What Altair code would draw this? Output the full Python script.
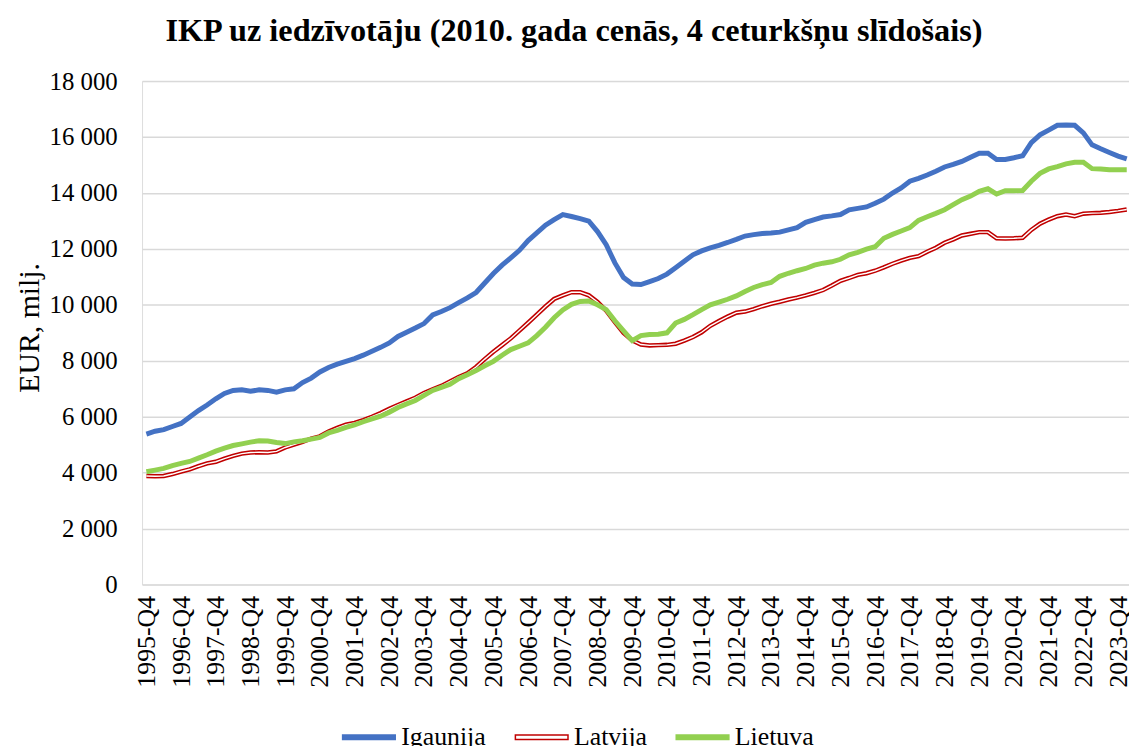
import altair as alt
import pandas as pd

# Categories: quarters 1995-Q4 .. 2024-Q1
all_q = [f"{y}-Q{q}" for y in range(1995, 2025) for q in range(1, 5)]
quarters = all_q[3:3 + 114]
tick_labels = [q for q in quarters if q.endswith("Q4")]

series_names = ["Igaunija", "Latvija", "Lietuva"]

igaunija = [
    5380, 5480, 5540, 5650, 5760, 5990, 6220, 6420, 6640, 6830,
    6940, 6960, 6910, 6960, 6940, 6880, 6960, 7000, 7220, 7380,
    7600, 7760, 7880, 7980, 8080, 8200, 8340, 8480, 8640, 8870,
    9020, 9170, 9330, 9640, 9760, 9900, 10080, 10250, 10440, 10780,
    11120, 11420, 11680, 11950, 12300, 12570, 12850, 13050, 13230, 13160,
    13080, 12990, 12620, 12150, 11500, 10980, 10745, 10725, 10830, 10940,
    11100, 11330, 11560, 11790, 11930, 12040, 12130, 12230, 12340, 12460,
    12510, 12550, 12570, 12600, 12680, 12760, 12950, 13050, 13140, 13180,
    13230, 13400, 13450, 13500, 13630, 13780, 14000, 14180, 14420, 14520,
    14640, 14780, 14930, 15020, 15130, 15280, 15420, 15420, 15200, 15200,
    15260, 15330, 15800, 16080, 16250, 16420, 16430, 16420, 16150, 15720,
    15580, 15450, 15320, 15220,
]

latvija = [
    3880, 3870, 3880, 3950, 4040, 4120, 4230, 4330, 4390, 4500,
    4600, 4680, 4720, 4730, 4720, 4760, 4900, 5000, 5100, 5220,
    5300, 5470, 5600, 5720, 5780, 5880, 6000, 6130, 6280, 6420,
    6550, 6680, 6850, 6980, 7100, 7260, 7420, 7550, 7780, 8060,
    8320, 8560, 8800, 9080, 9360, 9650, 9940, 10210, 10340, 10450,
    10450, 10340, 10100, 9790, 9380, 9000, 8730, 8580, 8550, 8560,
    8570, 8610, 8720, 8850, 9020, 9250, 9420, 9580, 9720, 9760,
    9850, 9950, 10040, 10110, 10190, 10260, 10340, 10430, 10530, 10690,
    10860, 10960, 11070, 11130, 11220, 11340, 11470, 11580, 11680, 11740,
    11900, 12040, 12220, 12340, 12480, 12540, 12600, 12600, 12380, 12370,
    12380, 12400, 12680, 12900, 13050, 13170, 13230, 13170, 13260, 13280,
    13290, 13320, 13360, 13410,
]

lietuva = [
    4030, 4090, 4150, 4250, 4330, 4400, 4520, 4640, 4770, 4880,
    4970, 5030, 5090, 5140, 5130, 5080, 5040, 5100, 5140, 5200,
    5260, 5420, 5510, 5620, 5710, 5820, 5920, 6020, 6160, 6330,
    6460, 6580, 6760, 6940, 7050, 7160, 7360, 7500, 7650, 7820,
    7980, 8200, 8400, 8520, 8640, 8900, 9200, 9540, 9820, 10020,
    10120, 10140, 10000, 9830, 9430, 9070, 8720, 8900, 8940, 8950,
    9000, 9350, 9480, 9650, 9830, 10000, 10100, 10200, 10320, 10480,
    10620, 10720, 10800, 11020, 11130, 11220, 11300, 11420, 11490, 11540,
    11630, 11790, 11880, 11990, 12080, 12380, 12520, 12640, 12760, 13020,
    13150, 13270, 13400, 13580, 13760, 13890, 14060, 14150, 13960, 14080,
    14080, 14090, 14420, 14700, 14860, 14940, 15040, 15100, 15100, 14870,
    14860, 14830, 14830, 14830,
]

y_ticks = list(range(0, 18001, 2000))

BLUE = "#4472C4"
RED = "#C00000"
GREEN = "#92D050"
FONT = "Liberation Serif"

rows = []
for name, vals in zip(series_names, [igaunija, latvija, lietuva]):
    for i, (q, v) in enumerate(zip(quarters, vals)):
        rows.append({"series": name, "quarter": q, "idx": i, "value": v})
df = pd.DataFrame(rows)

tick_idx = [quarters.index(t) for t in tick_labels]
label_array = "[" + ",".join(f"'{t}'" for t in tick_labels) + "]"

x_enc = alt.X(
    "idx:Q",
    scale=alt.Scale(domain=[-0.5, 113.26], nice=False, zero=False),
    axis=alt.Axis(
        values=tick_idx,
        labelExpr=f"{label_array}[round(datum.value / 4)]",
        labelAngle=270,
        labelFont=FONT,
        labelFontSize=26,
        labelColor="black",
        labelPadding=11,
        ticks=False,
        domain=False,
        grid=False,
        title=None,
        labelOverlap=False,
        labelFlush=False,
    ),
)
y_enc = alt.Y(
    "value:Q",
    scale=alt.Scale(domain=[0, 18000], nice=False),
    axis=alt.Axis(
        values=y_ticks,
        labelExpr="replace(format(datum.value, ','), ',', ' ')",
        labelFont=FONT,
        labelFontSize=25,
        labelColor="black",
        labelPadding=25,
        ticks=False,
        domain=False,
        grid=True,
        gridColor="#d9d9d9",
        gridWidth=1.5,
        title="EUR, milj.",
        titleFont=FONT,
        titleFontSize=30,
        titleFontWeight="normal",
        titleColor="black",
        titleX=-113,
        titleY=248,
        titleAngle=270,
        titleAlign="center",
        titleBaseline="middle",
    ),
)

base = alt.Chart(df).encode(x=x_enc, y=y_enc, order="idx:Q")

red_line = base.transform_filter(alt.datum.series == "Latvija").mark_line(
    color=RED, strokeWidth=4.5, clip=True
)
white_line = base.transform_filter(alt.datum.series == "Latvija").mark_line(
    color="white", strokeWidth=1.4, clip=True
)
blue_line = base.transform_filter(alt.datum.series == "Igaunija").mark_line(
    color=BLUE, strokeWidth=5, clip=True
)
green_line = base.transform_filter(alt.datum.series == "Lietuva").mark_line(
    color=GREEN, strokeWidth=5, clip=True
)

legend_kw = dict(
    orient="none",
    legendX=201,
    legendY=633,
    direction="horizontal",
    title=None,
    labelFont=FONT,
    labelFontSize=26,
    labelColor="black",
    symbolSize=2809,
    symbolStrokeWidth=1.5,
    columnPadding=26,
    labelOffset=5,
)
bar_path = "M-1,-0.085H1V0.085H-1Z"

legend_layer = (
    alt.Chart(df)
    .transform_filter("false")
    .mark_point(filled=True, opacity=1)
    .encode(
        x=x_enc,
        y=y_enc,
        fill=alt.Fill(
            "series:N",
            scale=alt.Scale(domain=series_names, range=[BLUE, "white", GREEN]),
            legend=alt.Legend(**legend_kw),
        ),
        stroke=alt.Stroke(
            "series:N",
            scale=alt.Scale(domain=series_names, range=[BLUE, RED, GREEN]),
            legend=alt.Legend(**legend_kw),
        ),
        shape=alt.Shape(
            "series:N",
            scale=alt.Scale(domain=series_names, range=[bar_path] * 3),
            legend=alt.Legend(**legend_kw),
        ),
    )
)

chart = (
    alt.layer(red_line, white_line, blue_line, green_line, legend_layer)
    .properties(
        width=994,
        height=507,
        autosize=alt.AutoSizeParams(type="none"),
        padding={"left": 135, "top": 71, "right": 0, "bottom": 160},
        title=alt.TitleParams(
            "IKP uz iedzīvotāju (2010. gada cenās, 4 ceturkšņu slīdošais)",
            font=FONT,
            fontSize=32.5,
            fontWeight="bold",
            color="black",
            anchor="middle",
            dx=-62,
            offset=22,
        ),
    )
    .configure_view(stroke=None)
    .configure(font=FONT)
    .configure_axis(labelFont=FONT, titleFont=FONT)
    .configure_legend(labelFont=FONT)
)

chart.save("out.html", embed_options={"renderer": "svg", "actions": False})
